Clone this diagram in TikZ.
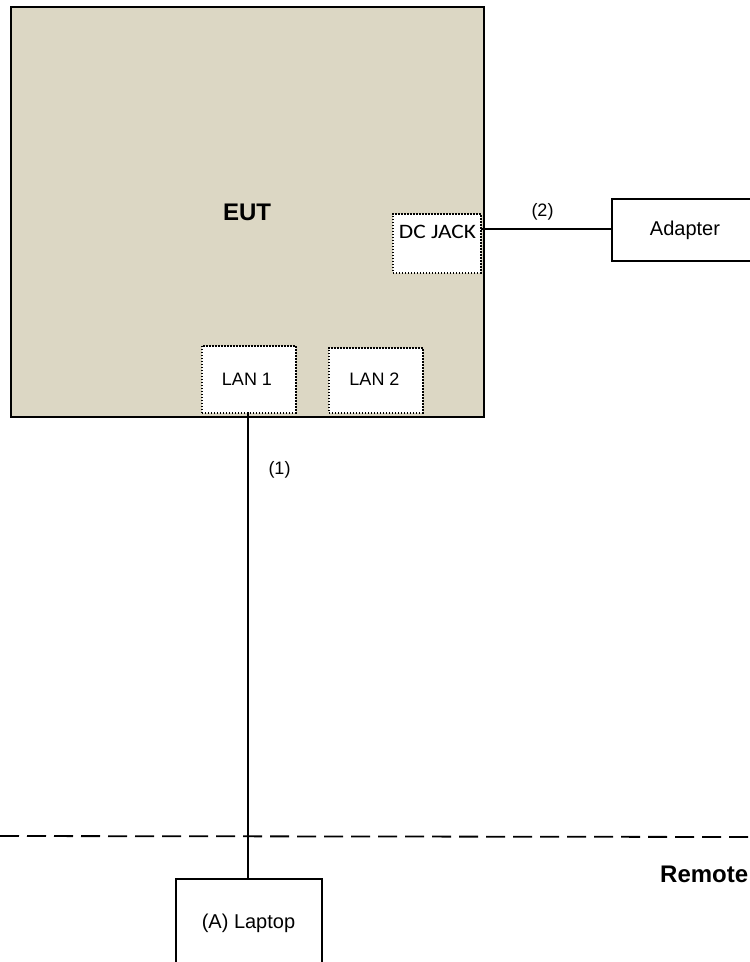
\documentclass[tikz,border=0pt]{standalone}
\usepackage{graphicx}
\usepackage{fontspec}
\setmainfont{Liberation Sans}
\newfontfamily\calibri{Carlito}
\begin{document}
\begin{tikzpicture}[x=1pt,y=-1pt,
  box/.style={draw=black,line width=1.8pt,fill=white,inner sep=0pt},
  port/.style={draw=black,line width=1.5pt,dash pattern=on 1.5pt off 1.5pt,fill=white,inner sep=0pt},
  wire/.style={line width=1.8pt},
  lbl/.style={font=\fontsize{20}{22}\selectfont,anchor=base,inner sep=0pt},
  lblsm/.style={font=\fontsize{18}{20}\selectfont,anchor=base,inner sep=0pt}]
\useasboundingbox (0,0) rectangle (750,962);
\clip (0,0) rectangle (750,962);
\fill[white] (0,0) rectangle (750,962);
\definecolor{eutbg}{HTML}{DCD7C4}
\node[draw=black,line width=1.8pt,fill=eutbg,minimum width=473pt,minimum height=410pt,inner sep=0pt,anchor=north west] (eut) at (10,6) {};
\node[font=\bfseries\fontsize{24}{26}\selectfont,anchor=base,inner sep=0pt] (euttxt) at (247,220) {EUT};
\node[port,minimum width=88pt,minimum height=59pt,anchor=north west] (dc) at (392,213) {};
\node[font=\calibri\fontsize{20.5}{22}\selectfont,anchor=base,inner sep=0pt] (dctxt) at (437.5,238) {\scalebox{1.14}[1]{DC JACK}};
\node[port,minimum width=94pt,minimum height=67pt,anchor=north west] (lan1) at (201,345) {};
\node[lblsm] (lan1txt) at (247,385) {LAN 1};
\node[port,minimum width=94pt,minimum height=65pt,anchor=north west] (lan2) at (328,347) {};
\node[lblsm] (lan2txt) at (374.5,385) {LAN 2};
\node[box,minimum width=150pt,minimum height=62pt,anchor=north west] (adp) at (611,198) {};
\node[lbl] (adptxt) at (685,235) {Adapter};
\node[box,minimum width=146pt,minimum height=100pt,anchor=north west] (lap) at (175,878) {};
\node[lbl] (laptxt) at (248.5,928) {(A) Laptop};
\coordinate (dcR) at (481,229);
\coordinate (adL) at (611,229);
\draw[wire] (dcR) -- (adL);
\node[lblsm] (l2) at (542.5,216) {(2)};
\coordinate (lanB) at (248,412);
\coordinate (lapT) at (248,878);
\draw[wire] (lanB) -- (lapT);
\node[lblsm] (l1) at (279.5,474) {(1)};
\coordinate (dl) at (0,836);
\coordinate (dr) at (750,837);
\draw[line width=1.8pt,dash pattern=on 19pt off 8pt] (dl) -- (dr);
\node[font=\bfseries\fontsize{24}{26}\selectfont,anchor=base west,inner sep=0pt] (rem) at (660,882) {Remote};
\end{tikzpicture}
\end{document}
